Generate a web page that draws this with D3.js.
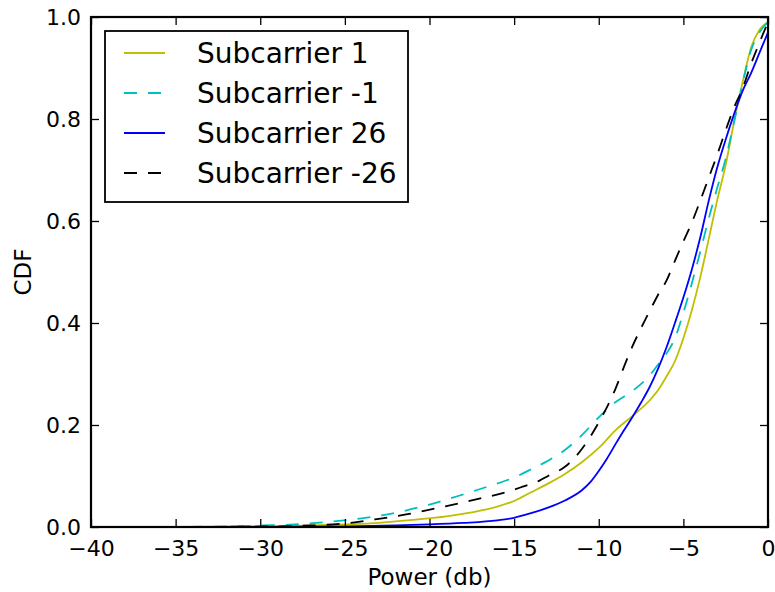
<!DOCTYPE html>
<html><head><meta charset="utf-8">
<script src="https://cdn.jsdelivr.net/npm/d3@7"></script>
<style>body{margin:0;background:#fff}svg{display:block}text{font-family:"DejaVu Sans",sans-serif;fill:#000}</style>
</head><body><svg id="c" width="775" height="592"></svg>
<script>
const seriesNames = ["Subcarrier 1", "Subcarrier -1", "Subcarrier 26", "Subcarrier -26"];
const sub1 = [[-37,0],[-33,0.0005],[-30,0.001],[-27,0.003],[-25,0.005],[-23,0.008],[-21,0.014],[-19,0.021],[-17,0.032],[-16,0.04],[-15,0.051],[-14,0.068],[-13,0.085],[-12,0.104],[-11,0.127],[-10,0.155],[-9,0.19],[-8,0.218],[-7,0.248],[-6.5,0.268],[-6,0.295],[-5.5,0.325],[-5,0.37],[-4.5,0.425],[-4,0.49],[-3.5,0.565],[-3,0.641],[-2.5,0.71],[-2,0.795],[-1.5,0.872],[-1,0.94],[-0.5,0.975],[0,0.99]];
const subM1 = [[-37,0],[-32,0.001],[-30,0.003],[-28,0.005],[-26,0.01],[-24,0.017],[-22,0.028],[-20,0.044],[-18,0.064],[-16.5,0.08],[-15,0.097],[-14,0.113],[-13,0.13],[-12,0.151],[-11,0.18],[-10,0.215],[-9,0.245],[-8,0.267],[-7,0.297],[-6.5,0.318],[-6,0.34],[-5.5,0.37],[-5,0.42],[-4.5,0.478],[-4,0.54],[-3.5,0.605],[-3,0.665],[-2.5,0.722],[-2,0.795],[-1.5,0.87],[-1,0.935],[-0.5,0.97],[0,0.99]];
const sub26 = [[-35,0],[-30,0],[-25,0.001],[-22,0.003],[-20,0.005],[-18,0.008],[-16,0.013],[-15,0.018],[-14,0.027],[-13,0.038],[-12,0.052],[-11,0.072],[-10.5,0.088],[-10,0.11],[-9.5,0.135],[-9,0.163],[-8.5,0.19],[-8,0.216],[-7.5,0.244],[-7,0.274],[-6.5,0.31],[-6,0.352],[-5.5,0.4],[-5,0.45],[-4.5,0.505],[-4,0.568],[-3.5,0.64],[-3,0.705],[-2.5,0.76],[-2,0.81],[-1.5,0.855],[-1,0.89],[-0.5,0.93],[0,0.97]];
const subM26 = [[-36,0],[-30,0.001],[-27,0.003],[-25,0.007],[-23,0.016],[-21,0.027],[-19,0.041],[-17,0.056],[-15.5,0.068],[-14.5,0.079],[-13.5,0.091],[-13,0.1],[-12,0.118],[-11.5,0.133],[-11,0.153],[-10.5,0.177],[-10,0.205],[-9.5,0.236],[-9,0.272],[-8.5,0.315],[-8,0.355],[-7.5,0.39],[-7,0.423],[-6.5,0.455],[-6,0.483],[-5.5,0.522],[-5,0.56],[-4.5,0.597],[-4,0.64],[-3.5,0.685],[-3,0.73],[-2.5,0.778],[-2,0.823],[-1.5,0.86],[-1,0.908],[-0.5,0.95],[0,0.99]];
const xTicks = [-40,-35,-30,-25,-20,-15,-10,-5,0];
const yTicks = [0.0,0.2,0.4,0.6,0.8,1.0];
const colors = ["#bfbf00","#00bfbf","#0000ff","#000000"];
const dashes = [null,"13,11",null,"13,11"];
const allSeries = [sub1, subM1, sub26, subM26];

const svg = d3.select("#c");
const L=91, R=768, T=17, B=527;
const x = d3.scaleLinear().domain([-40,0]).range([L,R]);
const y = d3.scaleLinear().domain([0,1]).range([B,T]);

const line = d3.line().x(d=>x(d[0])).y(d=>y(d[1])).curve(d3.curveMonotoneX);
svg.append("clipPath").attr("id","pc").append("rect").attr("x",L).attr("y",T-2).attr("width",R-L).attr("height",B-T+2);
const g = svg.append("g").attr("clip-path","url(#pc)");
allSeries.forEach((s,i)=>{
  g.append("path").attr("d",line(s)).attr("fill","none").attr("stroke",colors[i]).attr("stroke-width",1.8)
   .attr("stroke-dasharray",dashes[i]);
});

const fmtY = d3.format(".1f");
const fmtX = v => v<0 ? "\u2212"+Math.abs(v) : String(v);
const tl = 8;
const xb = svg.append("g").attr("transform",`translate(0,${B})`).call(d3.axisBottom(x).tickValues(xTicks).tickFormat(fmtX).tickSizeInner(-tl).tickSizeOuter(0).tickPadding(13));
const xt = svg.append("g").attr("transform",`translate(0,${T})`).call(d3.axisTop(x).tickValues(xTicks).tickFormat("").tickSizeInner(-tl).tickSizeOuter(0));
const yl = svg.append("g").attr("transform",`translate(${L},0)`).call(d3.axisLeft(y).tickValues(yTicks).tickFormat(fmtY).tickSizeInner(-tl).tickSizeOuter(0).tickPadding(10));
const yr = svg.append("g").attr("transform",`translate(${R},0)`).call(d3.axisRight(y).tickValues(yTicks).tickFormat("").tickSizeInner(-tl).tickSizeOuter(0));
[xb,xt,yl,yr].forEach(a=>{
  a.select(".domain").remove();
  a.selectAll(".tick line").attr("stroke","#000").attr("stroke-width",1.3);
  a.selectAll(".tick text").attr("font-size",22).attr("font-family","DejaVu Sans").attr("fill","#000");
});
svg.append("rect").attr("x",L).attr("y",T).attr("width",R-L).attr("height",B-T).attr("fill","none").attr("stroke","#000").attr("stroke-width",2.2);

svg.append("text").attr("x",(L+R)/2).attr("y",585).attr("text-anchor","middle").attr("font-size",23).text("Power (db)");
svg.append("text").attr("transform",`translate(31,${(T+B)/2}) rotate(-90)`).attr("text-anchor","middle").attr("font-size",23).text("CDF");

const lg = svg.append("g");
lg.append("rect").attr("x",105).attr("y",31).attr("width",303).attr("height",171).attr("fill","#fff").attr("stroke","#000").attr("stroke-width",1.8);
seriesNames.forEach((n,i)=>{
  const cy = 53 + i*40;
  lg.append("line").attr("x1",124).attr("x2",165).attr("y1",cy).attr("y2",cy).attr("stroke",colors[i]).attr("stroke-width",1.8).attr("stroke-dasharray",dashes[i]);
  lg.append("text").attr("x",197).attr("y",cy).attr("dy","0.36em").attr("font-size",28).text(n);
});
</script></body></html>
